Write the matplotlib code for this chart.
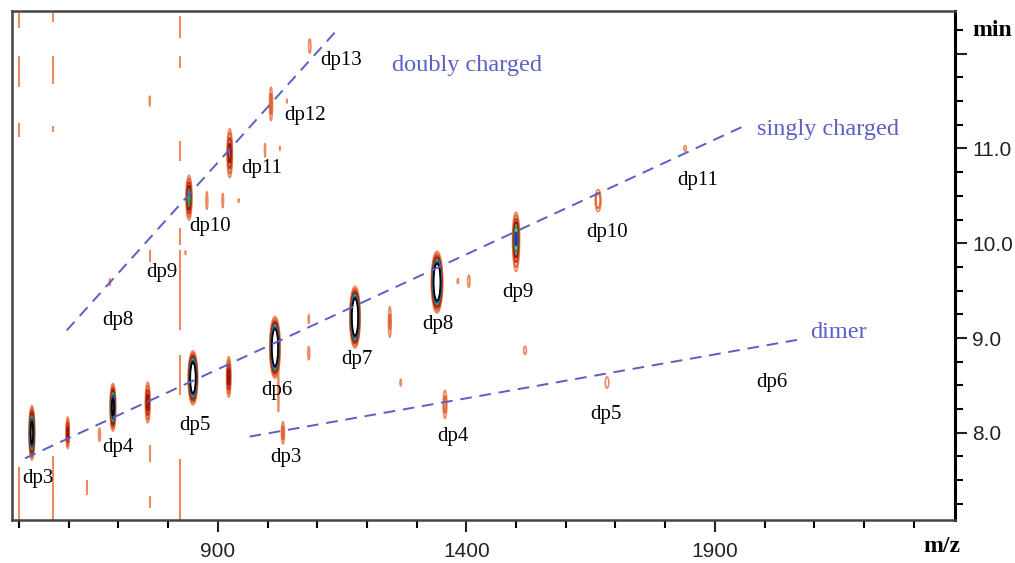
import numpy as np
import matplotlib
matplotlib.use('Agg')
import matplotlib.pyplot as plt
from matplotlib.ticker import FixedLocator, MultipleLocator

# ---------------- data ----------------
# detected peaks: m/z, retention time (min), intensity (arb.), peak spread in m/z and in min
peak_mz  = [526, 598, 662, 689, 759, 850, 922, 1015, 1083, 1083, 1176, 1246, 1341, 1383, 1405,
            1500, 1500, 1518, 1268, 1665, 1840,
            683, 835, 842, 878, 910, 942, 924, 995, 1025, 1007, 1039, 763, 1085,
            1031, 1022, 1357, 1683, 2011]
peak_rt  = [8.00, 8.00, 7.98, 8.27, 8.32, 8.58, 8.59, 8.90, 8.84, 9.20, 9.22, 9.17, 9.59, 9.60, 9.60,
            10.05, 9.85, 8.87, 8.53, 10.45, 11.00,
            9.59, 9.90, 10.48, 10.45, 10.45, 10.45, 10.95, 10.98, 11.00, 11.47, 11.50, 11.50, 12.08,
            8.00, 8.40, 8.30, 8.53, 8.88]
peak_amp = [60, 9, 2, 50, 10, 150, 10, 200, 2, 1.6, 200, 2.5, 200, 1.5, 1.8,
            24, 2.5, 1.8, 1.5, 4, 1.6,
            1.5, 1.3, 16, 2, 1.6, 1.3, 10, 1.5, 1.3, 3, 1.3, 1.5, 1.8,
            3, 1.6, 3, 2, 1.05]
peak_smz = [2.0, 1.5, 1.5, 2.0, 2.2, 3.0, 2.0, 3.2, 1.5, 1.2, 3.2, 2.0, 3.5, 1.5, 2.0,
            2.8, 3.0, 2.5, 1.5, 3.5, 2.5,
            1.2, 1.0, 2.5, 1.5, 1.5, 1.0, 2.5, 1.2, 1.0, 2.0, 1.0, 1.0, 2.0,
            2.0, 1.0, 2.5, 3.0, 1.0]
peak_srt = [0.10, 0.08, 0.06, 0.09, 0.10, 0.09, 0.10, 0.10, 0.06, 0.05, 0.10, 0.12, 0.10, 0.03, 0.06,
            0.11, 0.10, 0.04, 0.04, 0.07, 0.03,
            0.04, 0.03, 0.10, 0.08, 0.08, 0.03, 0.12, 0.08, 0.03, 0.12, 0.03, 0.06, 0.07,
            0.08, 0.20, 0.10, 0.05, 0.01]

# constant-m/z background streaks (m/z, start min, end min)
streak_mz = [500, 500, 500, 500, 568, 568, 568, 568,
             824, 824, 824, 824, 824, 824, 824, 763, 763, 763, 636]
streak_lo = [12.27, 11.65, 11.12, 7.08, 12.33, 11.68, 11.17, 7.08,
             12.17, 11.85, 10.87, 9.98, 9.08, 8.40, 7.08, 7.69, 7.21, 9.80, 7.34]
streak_hi = [12.43, 11.98, 11.27, 7.64, 12.43, 11.98, 11.24, 7.75,
             12.40, 11.98, 11.08, 10.16, 9.93, 8.82, 7.72, 7.87, 7.33, 9.93, 7.50]

# trend lines (m/z, min) endpoints
series_names = ['doubly charged', 'singly charged', 'dimer']
line_mz = [[596, 1140], [512, 1960], [964, 2065]]
line_rt = [[9.08, 12.25], [7.73, 11.24], [7.96, 8.98]]
series_label_mz = [1250, 1985, 2091]
series_label_rt = [11.87, 11.20, 9.06]

# peak annotations
ann_text = ['dp3', 'dp4', 'dp5', 'dp6', 'dp7', 'dp8', 'dp9', 'dp10', 'dp11',
            'dp8', 'dp9', 'dp10', 'dp11', 'dp12', 'dp13',
            'dp3', 'dp4', 'dp5', 'dp6']
ann_mz = [538, 699, 854, 1019, 1180, 1343, 1504, 1683, 1866,
          699, 787, 884, 989, 1075, 1149,
          1037, 1373, 1681, 2015]
ann_rt = [7.52, 7.85, 8.08, 8.45, 8.77, 9.14, 9.48, 10.11, 10.66,
          9.18, 9.69, 10.18, 10.79, 11.35, 11.93,
          7.74, 7.96, 8.19, 8.53]

x_major = [900, 1400, 1900]
y_major = [8, 9, 10, 11, 12]
y_major_labels = ['8.0', '9.0', '10.0', '11.0', '']

# ---------------- figure ----------------
fig = plt.figure(figsize=(10.15, 5.63), dpi=100)
ax = fig.add_axes([12/1015, 1-520/563, (955-12)/1015, (520-11)/563])
xmin, xmax, ymin, ymax = 486, 2383, 7.08, 12.45

mz = np.arange(480, 2400, 0.8)
rt = np.arange(7.0, 12.6, 0.006)
MZ, RT = np.meshgrid(mz, rt)
Z = np.zeros_like(MZ)
for m, r, a, sm, sr in zip(peak_mz, peak_rt, peak_amp, peak_smz, peak_srt):
    sel_m = np.abs(mz - m) < 8 * sm
    sel_r = np.abs(rt - r) < 8 * sr
    gm = np.exp(-0.5 * ((mz[sel_m] - m) / sm) ** 2)
    gr = np.exp(-0.5 * ((rt[sel_r] - r) / sr) ** 2)
    Z[np.ix_(sel_r, sel_m)] += a * np.outer(gr, gm)

levels = [1, 2, 4, 7, 12, 20, 30]
cols = ['#ec8a62', '#e0642f', '#c8301c', '#8a1a12', '#1f9d55', '#2436a8', '#000000']
ax.contour(MZ, RT, Z, levels=levels, colors=cols, linewidths=1.2)

ax.vlines(streak_mz, streak_lo, streak_hi, colors='#ec8a62', linewidth=1.5)

line_col = '#5b5fc4'
for xs, ys in zip(line_mz, line_rt):
    ax.plot(xs, ys, color=line_col, lw=1.4, linestyle=(0, (6, 4)))
for name, x, y in zip(series_names, series_label_mz, series_label_rt):
    ax.text(x, y, name, color=line_col, fontsize=17.5, family='Liberation Serif',
            ha='left', va='center')

for t, x, y in zip(ann_text, ann_mz, ann_rt):
    ax.text(x, y, t, color='black', fontsize=15, family='Liberation Serif',
            ha='center', va='center')

ax.set_xlim(xmin, xmax)
ax.set_ylim(ymin, ymax)

ax.yaxis.tick_right()
ax.xaxis.set_major_locator(FixedLocator(x_major))
ax.xaxis.set_minor_locator(MultipleLocator(100))
ax.yaxis.set_major_locator(FixedLocator(y_major))
ax.yaxis.set_minor_locator(MultipleLocator(0.25))
ax.set_xticklabels([str(v) for v in x_major])
ax.set_yticklabels(y_major_labels)
ax.tick_params(axis='x', which='major', direction='out', length=8.5, width=1.5,
               labelsize=15, pad=7, colors='#222222')
ax.tick_params(axis='x', which='minor', direction='out', length=5.5, width=1.5)
ax.tick_params(axis='y', which='major', direction='out', length=8.5, width=1.5,
               labelsize=15, pad=4, colors='#222222', right=True, left=False)
ax.tick_params(axis='y', which='minor', direction='out', length=5.5, width=1.5,
               right=True, left=False)
for lab in ax.get_xticklabels() + ax.get_yticklabels():
    lab.set_family('Liberation Sans')

for s in ['left', 'top', 'bottom']:
    ax.spines[s].set_color('#444444')
    ax.spines[s].set_linewidth(1.8)
ax.spines['right'].set_color('black')
ax.spines['right'].set_linewidth(2.2)

fig.text(942/1015, 1-547/563, 'm/z', fontsize=17, fontweight='bold',
         family='Liberation Serif', ha='center', va='center')
fig.text(992/1015, 1-30/563, 'min', fontsize=17, fontweight='bold',
         family='Liberation Serif', ha='center', va='center')

fig.savefig('out.png', dpi=100)
